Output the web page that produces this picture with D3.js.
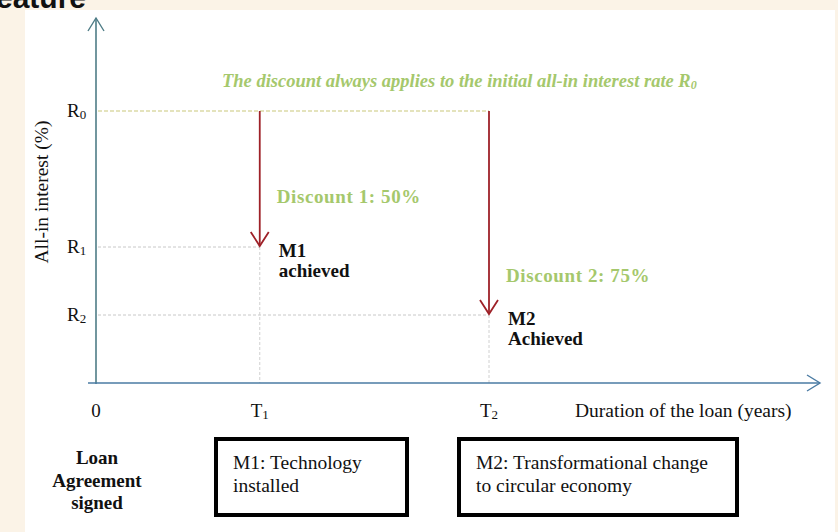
<!DOCTYPE html>
<html>
<head>
<meta charset="utf-8">
<script src="https://cdn.jsdelivr.net/npm/d3@7"></script>
<style>
  html, body { margin: 0; padding: 0; background: #fbf3e7; }
  svg { display: block; }
</style>
</head>
<body>
<svg id="chart" width="838" height="532"></svg>
<script>
// rate levels (share of the initial rate, %)
const levels = [
  {key: 'R', sub: '0', value: 100},
  {key: 'R', sub: '1', value: 50},
  {key: 'R', sub: '2', value: 25}
];
// time points on the loan (years, schematic)
const times = [
  {key: '0', sub: '', value: 0},
  {key: 'T', sub: '1', value: 5},
  {key: 'T', sub: '2', value: 12}
];
// milestones: when reached, rate drops to the given level
const milestones = [
  {time: 5, level: 50, discount: 'Discount 1: 50%', name: 'M1', status: 'achieved'},
  {time: 12, level: 25, discount: 'Discount 2: 75%', name: 'M2', status: 'Achieved'}
];
const boxLines = [
  ['M1: Technology', 'installed'],
  ['M2: Transformational change', 'to circular economy']
];
const startLines = ['Loan', 'Agreement', 'signed'];

const w = 838, h = 532;
const svg = d3.select('#chart');
const serif = 'Liberation Serif, Times New Roman, serif';

// white panel
svg.append('rect').attr('x', 25).attr('y', 10).attr('width', 810).attr('height', h - 10).attr('fill', '#ffffff');
// cut-off heading at the top
svg.append('text').attr('x', 86).attr('y', 8).attr('text-anchor', 'end')
   .attr('font-family', 'Liberation Sans, Arial, sans-serif').attr('font-weight', 'bold').attr('font-size', 30)
   .attr('fill', '#111').text('Feature');

const xScale = d3.scaleLinear().domain([0, 12]).range([96, 489]);
const yScale = d3.scaleLinear().domain([0, 100]).range([383, 111]);

const x0 = xScale(0), y0 = yScale(0);

//grid guides
const g = svg.append('g');
g.append('line').attr('x1', x0 + 2).attr('x2', xScale(12)).attr('y1', yScale(100)).attr('y2', yScale(100))
 .attr('stroke', '#c9c87a').attr('stroke-width', 1.2).attr('stroke-dasharray', '4,2');
g.selectAll('.hguide').data(milestones).join('line')
 .attr('x1', x0 + 2).attr('x2', d => xScale(d.time)).attr('y1', d => yScale(d.level)).attr('y2', d => yScale(d.level))
 .attr('stroke', '#c8c8c8').attr('stroke-dasharray', '3,2');
g.selectAll('.vguide').data(milestones).join('line')
 .attr('x1', d => xScale(d.time)).attr('x2', d => xScale(d.time)).attr('y1', d => yScale(d.level)).attr('y2', y0)
 .attr('stroke', '#d0d0d0').attr('stroke-dasharray', '3,2');

// axes with open arrow heads
const yTop = 18, xEnd = 820;
svg.append('line').attr('x1', x0).attr('x2', x0).attr('y1', y0 + 1).attr('y2', yTop)
   .attr('stroke', '#4e7c86').attr('stroke-width', 1.6);
svg.append('path').attr('d', `M${x0 - 8},${yTop + 13}L${x0},${yTop}L${x0 + 8},${yTop + 13}`)
   .attr('fill', 'none').attr('stroke', '#4e7c86').attr('stroke-width', 1.4);
svg.append('line').attr('x1', 88).attr('x2', xEnd).attr('y1', y0).attr('y2', y0)
   .attr('stroke', '#4a7ba3').attr('stroke-width', 1.6);
svg.append('path').attr('d', `M${xEnd - 13},${y0 - 8}L${xEnd},${y0}L${xEnd - 13},${y0 + 8}`)
   .attr('fill', 'none').attr('stroke', '#4a7ba3').attr('stroke-width', 1.4);

// level labels
const yl = svg.selectAll('.ylab').data(levels).join('text')
  .attr('x', 67).attr('y', d => yScale(d.value) + 6)
  .attr('font-family', serif).attr('font-size', 19).attr('fill', '#111');
yl.append('tspan').text(d => d.key);
yl.append('tspan').attr('font-size', 13).attr('dy', 2).text(d => d.sub);

// time labels
const xl = svg.selectAll('.xlab').data(times).join('text')
  .attr('x', d => xScale(d.value)).attr('y', 417).attr('text-anchor', 'middle')
  .attr('font-family', serif).attr('font-size', 19).attr('fill', '#111');
xl.append('tspan').text(d => d.key);
xl.append('tspan').attr('font-size', 13).attr('dy', 2).text(d => d.sub);

svg.append('text').attr('x', 575).attr('y', 417)
   .attr('font-family', serif).attr('font-size', 19.5).attr('fill', '#111')
   .text('Duration of the loan (years)');
svg.append('text').attr('transform', 'translate(48,192) rotate(-90)').attr('text-anchor', 'middle')
   .attr('font-family', serif).attr('font-size', 19.5).attr('fill', '#111')
   .text('All-in interest (%)');

// note
const note = svg.append('text').attr('x', 222).attr('y', 87)
   .attr('font-family', serif).attr('font-style', 'italic').attr('font-weight', 'bold')
   .attr('font-size', 18.5).attr('fill', '#a5c86c');
note.append('tspan').text('The discount always applies to the initial all-in interest rate R');
note.append('tspan').attr('font-size', 12).attr('dy', 2).text('0');

// discount arrows
const arr = svg.selectAll('.arr').data(milestones).join('g');
arr.append('line')
   .attr('x1', d => xScale(d.time)).attr('x2', d => xScale(d.time))
   .attr('y1', yScale(100)).attr('y2', d => yScale(d.level) - 1)
   .attr('stroke', '#9e2128').attr('stroke-width', 1.8);
arr.append('path')
   .attr('d', d => { const x = xScale(d.time), y = yScale(d.level) - 1;
     return `M${x - 9},${y - 14}L${x},${y}L${x + 9},${y - 14}`; })
   .attr('fill', 'none').attr('stroke', '#9e2128').attr('stroke-width', 1.8);
arr.append('text')
   .attr('x', d => xScale(d.time) + 17).attr('y', (d, i) => i === 0 ? 203 : 282)
   .attr('font-family', serif).attr('font-weight', 'bold').attr('font-size', 19)
   .attr('letter-spacing', 0.6).attr('fill', '#a5c86c')
   .text(d => d.discount);
arr.append('text')
   .attr('x', d => xScale(d.time) + 19).attr('y', d => yScale(d.level) + 10)
   .attr('font-family', serif).attr('font-weight', 'bold').attr('font-size', 19).attr('fill', '#111')
   .text(d => d.name);
arr.append('text')
   .attr('x', d => xScale(d.time) + 19).attr('y', d => yScale(d.level) + 30)
   .attr('font-family', serif).attr('font-weight', 'bold').attr('font-size', 19).attr('fill', '#111')
   .text(d => d.status);

// bottom labels
svg.selectAll('.start').data(startLines).join('text')
   .attr('x', x0 + 1).attr('y', (d, i) => 464 + i * 22.5).attr('text-anchor', 'middle')
   .attr('font-family', serif).attr('font-weight', 'bold').attr('font-size', 19).attr('fill', '#111')
   .text(d => d);

const boxes = [
  {x: 216, w: 191},
  {x: 459, w: 278}
];
const bx = svg.selectAll('.box').data(boxes).join('g');
bx.append('rect').attr('x', d => d.x).attr('y', 439).attr('width', d => d.w).attr('height', 76)
  .attr('fill', '#fff').attr('stroke', '#000').attr('stroke-width', 4);
bx.each(function(d, i) {
  d3.select(this).selectAll('text').data(boxLines[i]).join('text')
    .attr('x', d.x + 17).attr('y', (t, j) => 469 + j * 22.5)
    .attr('font-family', serif).attr('font-size', 19.5).attr('fill', '#111')
    .text(t => t);
});
</script>
</body>
</html>
